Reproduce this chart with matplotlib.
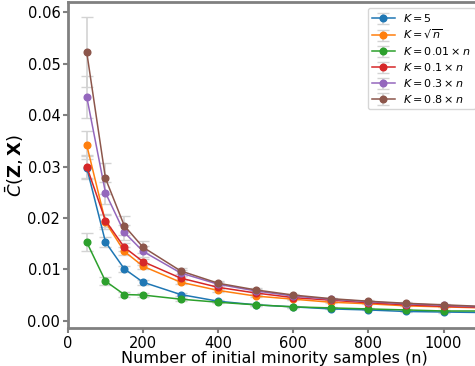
import numpy as np
import matplotlib
matplotlib.use("Agg")
import matplotlib.pyplot as plt

# number of initial minority samples
n_samples = [50, 100, 150, 200, 300, 400, 500, 600, 700, 800, 900, 1000, 1100]

labels = [r"$K=5$", r"$K=\sqrt{n}$", r"$K=0.01\times n$",
          r"$K=0.1\times n$", r"$K=0.3\times n$", r"$K=0.8\times n$"]

k5 = [0.0298, 0.0153, 0.0101, 0.0075, 0.0051, 0.0038, 0.0031, 0.0027, 0.0023, 0.0021, 0.0018, 0.0017, 0.0016]
k_sqrt = [0.0342, 0.0192, 0.0135, 0.0106, 0.0075, 0.0059, 0.0048, 0.0042, 0.0036, 0.0033, 0.0029, 0.0027, 0.0025]
k001 = [0.0153, 0.0077, 0.0051, 0.0050, 0.0042, 0.0036, 0.0031, 0.0027, 0.0025, 0.0023, 0.0021, 0.0019, 0.0019]
k01 = [0.0300, 0.0195, 0.0143, 0.0115, 0.0083, 0.0065, 0.0054, 0.0045, 0.0040, 0.0035, 0.0031, 0.0028, 0.0026]
k03 = [0.0436, 0.0249, 0.0172, 0.0135, 0.0093, 0.0071, 0.0058, 0.0048, 0.0042, 0.0037, 0.0033, 0.0030, 0.0027]
k08 = [0.0523, 0.0277, 0.0185, 0.0143, 0.0097, 0.0073, 0.0060, 0.0050, 0.0043, 0.0038, 0.0034, 0.0031, 0.0028]

err5 = [0.0022, 0.0010, 0.0006, 0.0005, 0.0003, 0.0002, 0.0002, 0.0002, 0.0001, 0.0001, 0.0001, 0.0001, 0.0001]
err_sqrt = [0.0027, 0.0013, 0.0008, 0.0006, 0.0004, 0.0003, 0.0002, 0.0002, 0.0002, 0.0001, 0.0001, 0.0001, 0.0001]
err001 = [0.0018, 0.0008, 0.0005, 0.0004, 0.0003, 0.0002, 0.0002, 0.0002, 0.0001, 0.0001, 0.0001, 0.0001, 0.0001]
err01 = [0.0022, 0.0013, 0.0008, 0.0006, 0.0004, 0.0003, 0.0002, 0.0002, 0.0002, 0.0001, 0.0001, 0.0001, 0.0001]
err03 = [0.0041, 0.0022, 0.0014, 0.0010, 0.0005, 0.0004, 0.0003, 0.0002, 0.0002, 0.0002, 0.0001, 0.0001, 0.0001]
err08 = [0.0069, 0.0030, 0.0018, 0.0012, 0.0006, 0.0004, 0.0003, 0.0003, 0.0002, 0.0002, 0.0002, 0.0001, 0.0001]

series = [k5, k_sqrt, k001, k01, k03, k08]
errors = [err5, err_sqrt, err001, err01, err03, err08]

fig = plt.figure(figsize=(4.75, 3.66), dpi=100)
ax = fig.add_axes([0.143, 0.104, 0.87, 0.890])

for vals, errs, lab in zip(series, errors, labels):
    ax.errorbar(n_samples, vals, yerr=errs, label=lab, marker="o", markersize=4.8,
                linewidth=1.1, ecolor="lightgray", elinewidth=1.2, capsize=4)

ax.set_xlim(0, 1100)
ax.set_ylim(-0.0014, 0.062)
ax.set_xticks([0, 200, 400, 600, 800, 1000])
ax.set_yticks([0.0, 0.01, 0.02, 0.03, 0.04, 0.05, 0.06])
ax.set_yticklabels(["0.00", "0.01", "0.02", "0.03", "0.04", "0.05", "0.06"])
ax.tick_params(labelsize=10.5, color="gray", width=1.5, pad=2)
for sp in ax.spines.values():
    sp.set_color("gray")
    sp.set_linewidth(2)

ax.set_xlabel("Number of initial minority samples (n)", fontsize=11.5, labelpad=0)
ax.set_ylabel(r"$\bar{C}(\mathbf{Z},\mathbf{X})$", fontsize=13, labelpad=1)
ax.legend(fontsize=8, loc="upper right", labelspacing=0.35, borderaxespad=0.5)

fig.savefig("out.png", dpi=100)
